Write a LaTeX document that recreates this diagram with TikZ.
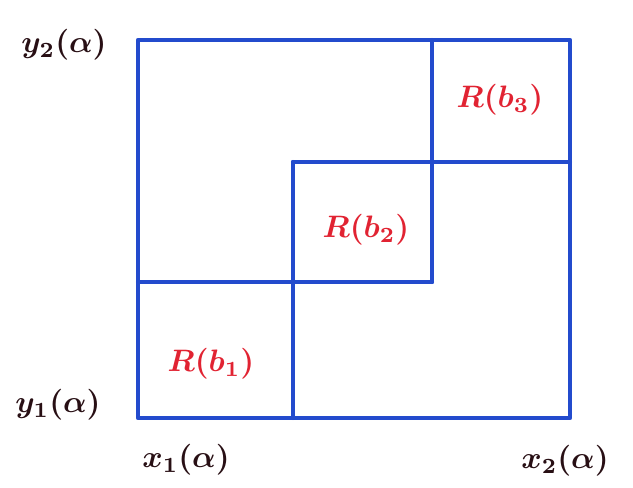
\documentclass[tikz,border=0pt]{standalone}
\begin{document}
\begin{tikzpicture}[x=1pt,y=-1pt,
  edge/.style={draw={rgb,255:red,35;green,75;blue,205}, line width=4.2pt, line cap=round, line join=round},
  rlab/.style={text={rgb,255:red,225;green,35;blue,50}, font=\boldmath, scale=3.1},
  blab/.style={text={rgb,255:red,40;green,15;blue,20}, font=\boldmath, scale=3.1}]
\useasboundingbox (0,0) rectangle (633,488);
\coordinate (tl) at (138,40);
\coordinate (tr) at (570,40);
\coordinate (br) at (570,418);
\coordinate (bl) at (138,418);
\coordinate (a1) at (432,40);
\coordinate (a2) at (432,282);
\coordinate (b1) at (293,162);
\coordinate (b2) at (570,162);
\coordinate (c1) at (293,418);
\coordinate (d1) at (138,282);
\draw[edge] (tl) -- (tr) -- (br) -- (bl) -- cycle;
\draw[edge] (a1) -- (a2);
\draw[edge] (b1) -- (b2);
\draw[edge] (b1) -- (c1);
\draw[edge] (d1) -- (a2);
\node[rlab] (r1) at (211,364) {$R(b_1)$};
\node[rlab] (r2) at (366,230) {$R(b_2)$};
\node[rlab] (r3) at (500,100) {$R(b_3)$};
\node[blab] (ly2) at (64,45) {$y_2(\alpha)$};
\node[blab] (ly1) at (58,405) {$y_1(\alpha)$};
\node[blab] (lx1) at (186,460) {$x_1(\alpha)$};
\node[blab] (lx2) at (565,461) {$x_2(\alpha)$};
\end{tikzpicture}
\end{document}
